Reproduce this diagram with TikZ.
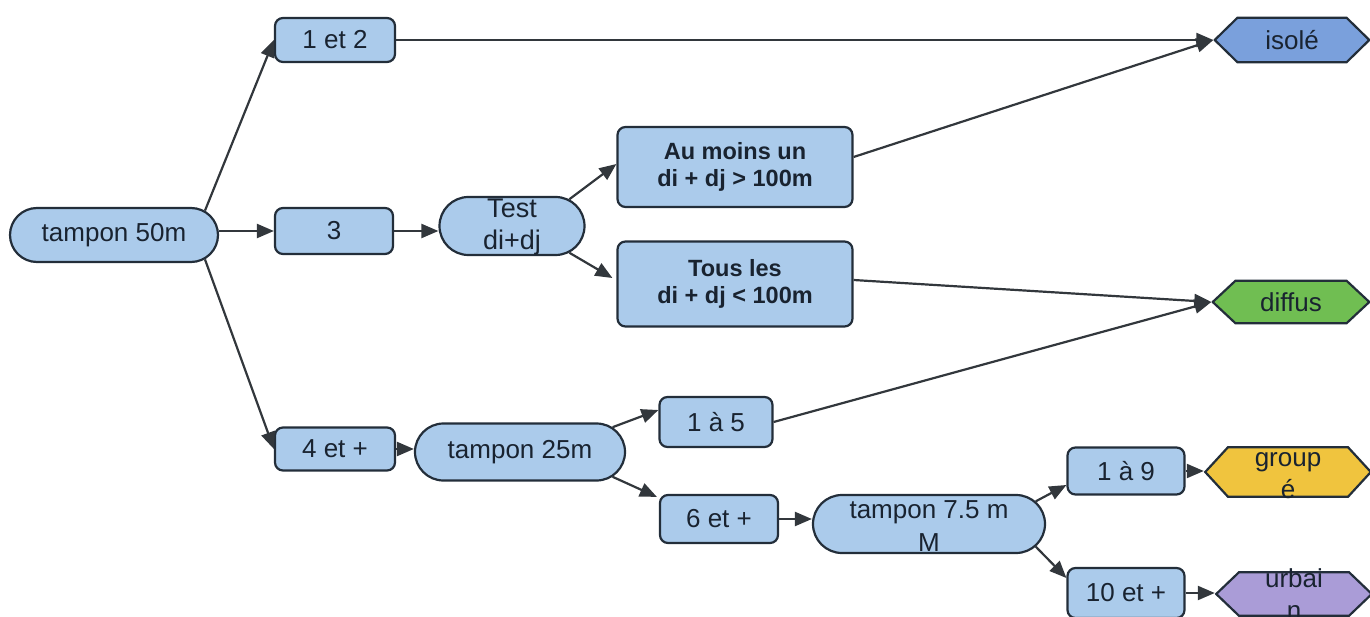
\documentclass[tikz,border=0pt]{standalone}
\usepackage{fontspec}
\setmainfont{Liberation Sans}
\usetikzlibrary{shapes.misc,arrows.meta,calc}
\definecolor{nodefill}{RGB}{171,203,235}
\definecolor{bordercol}{RGB}{35,46,58}
\definecolor{textcol}{RGB}{25,35,48}
\definecolor{arrowcol}{RGB}{50,55,60}
\definecolor{isofill}{RGB}{122,160,220}
\definecolor{diffill}{RGB}{112,190,82}
\definecolor{grpfill}{RGB}{240,196,62}
\definecolor{urbfill}{RGB}{170,156,215}
\newcommand{\ovl}[3]{\raisebox{#3}[0pt][0pt]{\begin{tabular}[b]{@{}c@{}}#1\\#2\end{tabular}}}
\tikzset{
  base/.style={draw=bordercol, line width=2.2pt, fill=nodefill, text=textcol, inner sep=0pt, font=\fontsize{26}{30}\selectfont},
  box/.style={base, rectangle, rounded corners=8pt},
  pill/.style={base, rounded rectangle},
  boldbox/.style={box, align=center, font=\fontsize{23.5}{27.5}\selectfont\bfseries},
  hexa/.style={rectangle, draw=none, inner sep=0pt, text=textcol, font=\fontsize{26}{32}\selectfont,
    path picture={\draw[line width=2.2pt, draw=bordercol, fill=#1, line join=miter]
      ($(path picture bounding box.west)+(1.2pt,0)$)
      -- ([xshift=24pt,yshift=-1.2pt]path picture bounding box.north west)
      -- ([xshift=-24pt,yshift=-1.2pt]path picture bounding box.north east)
      -- ($(path picture bounding box.east)+(-1.2pt,0)$)
      -- ([xshift=-24pt,yshift=1.2pt]path picture bounding box.south east)
      -- ([xshift=24pt,yshift=1.2pt]path picture bounding box.south west)
      -- cycle;}},
  conn/.style={draw=arrowcol, line width=2.2pt, -{Triangle[length=17pt,width=14pt]}}
}
\begin{document}
\begin{tikzpicture}[x=1pt,y=-1pt]
\useasboundingbox (0,0) rectangle (1370,617);
% nodes
\node[pill, minimum width=208pt, minimum height=54pt] (t50) at (114,235) {tampon 50m};
\node[box, minimum width=120pt, minimum height=44pt] (n12) at (335,40) {1 et 2};
\node[box, minimum width=118pt, minimum height=46pt] (n3) at (334,231) {3};
\node[box, minimum width=120pt, minimum height=43pt] (n4) at (335,449) {4 et +};
\node[pill, minimum width=145pt, minimum height=58pt, font=\fontsize{27}{32}\selectfont] (test) at (512,226) {\ovl{Test}{di+dj}{-24pt}};
\node[boldbox, minimum width=235pt, minimum height=80pt] (aum) at (735,167) {Au moins un\\di + dj > 100m};
\node[boldbox, minimum width=235pt, minimum height=85pt] (tous) at (735,284) {Tous les\\di + dj < 100m};
\node[pill, minimum width=210pt, minimum height=57pt] (t25) at (520,452) {tampon 25m};
\node[box, minimum width=113pt, minimum height=50pt] (a15) at (716,422) {1 à 5};
\node[box, minimum width=118pt, minimum height=48pt] (n6) at (719,519) {6 et +};
\node[pill, minimum width=232pt, minimum height=58pt, font=\fontsize{26}{33}\selectfont] (t75) at (929,524) {\ovl{tampon 7.5 m}{M}{-27pt}};
\node[box, minimum width=117pt, minimum height=47pt] (a19) at (1126,471) {1 à 9};
\node[box, minimum width=117pt, minimum height=50pt] (n10) at (1126,593) {10 et +};
\node[hexa=isofill, minimum width=157pt, minimum height=47pt] (iso) at (1292,40) {isolé};
\node[hexa=diffill, minimum width=159pt, minimum height=45pt] (dif) at (1291,302) {diffus};
\node[hexa=grpfill, minimum width=168pt, minimum height=52pt] (grp) at (1288,472) {\ovl{group}{é}{-26pt}};
\node[hexa=urbfill, minimum width=158pt, minimum height=46pt] (urb) at (1294,594) {\ovl{urbai}{n}{-25pt}};
% connectors
\draw[conn] (t50.15) -- (n12.west);
\draw[conn] (t50.east |- n3.west) -- (n3.west);
\draw[conn] (t50.-15) -- (n4.west);
\draw[conn] (n3.east) -- (n3.east -| test.west);
\draw[conn] (test.25) -- ([yshift=3pt]aum.west);
\draw[conn] (test.-25) -- ([xshift=-4pt,yshift=6pt]tous.west);
\draw[conn] (n12.east) -- (iso.west);
\draw[conn] ([yshift=10pt]aum.east) -- (iso.west);
\draw[conn] ([yshift=4pt]tous.east) -- (dif.west);
\draw[conn] (a15.east) -- (dif.west);
\draw[conn] (n4.east) -- (n4.east -| t25.west);
\draw[conn] (t25.15) -- ([yshift=12pt]a15.west);
\draw[conn] (t25.-15) -- ([xshift=-2pt,yshift=-3pt]n6.north west);
\draw[conn] (n6.east) -- (n6.east -| t75.west);
\draw[conn] (t75.12) -- ([yshift=-14pt]a19.west);
\draw[conn] (t75.-12) -- ([yshift=15pt]n10.west);
\draw[conn] (a19.east) -- (a19.east -| grp.west);
\draw[conn] (n10.east) -- (n10.east -| urb.west);
\end{tikzpicture}
\end{document}
